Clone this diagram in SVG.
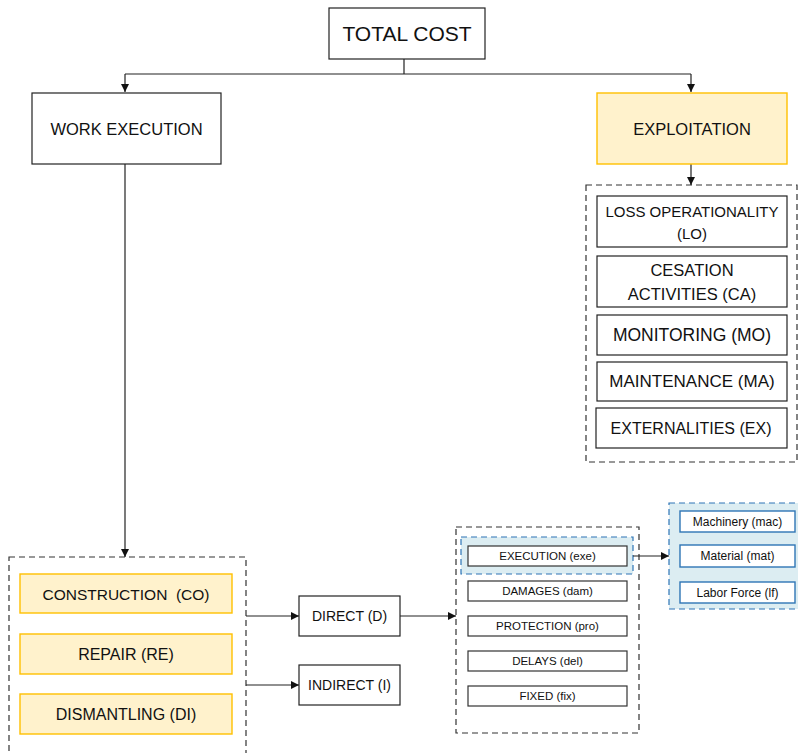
<svg xmlns="http://www.w3.org/2000/svg" width="798" height="753" viewBox="0 0 798 753">
  <style>
    text { font-family: "Liberation Sans", Arial, sans-serif; fill: #111; text-anchor: middle; dominant-baseline: central; }
    .box { fill: #fff; stroke: #222; stroke-width: 1.2; }
    .yel { fill: #FFF2CC; stroke: #FFC000; stroke-width: 1.4; }
    .grp { fill: none; stroke: #333; stroke-width: 1.2; stroke-dasharray: 6 4; }
    .bgrp { fill: #DCEDF2; stroke: #2E75B6; stroke-width: 1.2; stroke-dasharray: 6 4; }
    .bbox { fill: #fff; stroke: #2E75B6; stroke-width: 1.4; }
    .sm { fill: #fff; stroke: #333; stroke-width: 1.2; }
    .ln { fill: none; stroke: #222; stroke-width: 1.2; }
  </style>
  <defs>
    <marker id="arr" viewBox="0 0 10 10" refX="10" refY="5" markerWidth="8" markerHeight="8" markerUnits="userSpaceOnUse" orient="auto">
      <path d="M0,0 L10,5 L0,10 Z" fill="#111"/>
    </marker>
  </defs>

  <!-- group frames -->
  <rect class="grp" x="586" y="185" width="211" height="277"/>
  <rect class="grp" x="9" y="557" width="237" height="200"/>
  <rect class="grp" x="456" y="527" width="183" height="206"/>
  <rect class="bgrp" x="669" y="503" width="135" height="106"/>
  <rect class="bgrp" x="461" y="537" width="172" height="37"/>

  <g id="connectors">
    <path class="ln" d="M404,58 V74 M125,74 H691"/>
    <path class="ln" d="M125,74 V92" marker-end="url(#arr)"/>
    <path class="ln" d="M691,74 V92" marker-end="url(#arr)"/>
    <path class="ln" d="M691,163 V185" marker-end="url(#arr)"/>
    <path class="ln" d="M125,163 V557" marker-end="url(#arr)"/>
    <path class="ln" d="M246,616 H299" marker-end="url(#arr)"/>
    <path class="ln" d="M246,685 H299" marker-end="url(#arr)"/>
    <path class="ln" d="M400,616 H456" marker-end="url(#arr)"/>
    <path class="ln" d="M633,556 H669" marker-end="url(#arr)"/>
  </g>

  <g id="total-cost">
    <rect class="box" x="329" y="8" width="156" height="51"/>
    <text x="407" y="33" font-size="21">TOTAL COST</text>
  </g>
  <g id="work-execution">
    <rect class="box" x="32" y="93" width="189" height="71"/>
    <text x="126.5" y="128.5" font-size="16.5">WORK EXECUTION</text>
  </g>
  <g id="exploitation">
    <rect class="yel" x="597" y="93" width="190" height="71"/>
    <text x="692" y="128.5" font-size="16.5">EXPLOITATION</text>
  </g>

  <g id="loss-operationality">
    <rect class="box" x="597" y="196" width="190" height="51"/>
    <text x="692" y="211" font-size="15">LOSS OPERATIONALITY</text>
    <text x="692" y="233" font-size="15">(LO)</text>
  </g>
  <g id="cesation-activities">
    <rect class="box" x="597" y="256" width="190" height="51"/>
    <text x="692" y="270" font-size="16.5">CESATION</text>
    <text x="692" y="294" font-size="16.5">ACTIVITIES (CA)</text>
  </g>
  <g id="monitoring">
    <rect class="box" x="597" y="315" width="190" height="40"/>
    <text x="692" y="335" font-size="17.5">MONITORING (MO)</text>
  </g>
  <g id="maintenance">
    <rect class="box" x="597" y="362" width="190" height="39"/>
    <text x="692" y="381.5" font-size="17">MAINTENANCE (MA)</text>
  </g>
  <g id="externalities">
    <rect class="box" x="596" y="408" width="191" height="40"/>
    <text x="691" y="428" font-size="16">EXTERNALITIES (EX)</text>
  </g>

  <g id="construction">
    <rect class="yel" x="20" y="574" width="212" height="39"/>
    <text x="126" y="594" font-size="15.5" xml:space="preserve">CONSTRUCTION  (CO)</text>
  </g>
  <g id="repair">
    <rect class="yel" x="20" y="634" width="212" height="40"/>
    <text x="126" y="654" font-size="16">REPAIR (RE)</text>
  </g>
  <g id="dismantling">
    <rect class="yel" x="20" y="694" width="212" height="40"/>
    <text x="126" y="714" font-size="16">DISMANTLING (DI)</text>
  </g>

  <g id="direct">
    <rect class="box" x="299" y="596" width="101" height="40"/>
    <text x="349.5" y="616" font-size="14">DIRECT (D)</text>
  </g>
  <g id="indirect">
    <rect class="box" x="299" y="665" width="101" height="40"/>
    <text x="349.5" y="685" font-size="14">INDIRECT (I)</text>
  </g>

  <g id="execution">
    <rect class="sm" x="468" y="546" width="159" height="20"/>
    <text x="547.5" y="556" font-size="11.5">EXECUTION (exe)</text>
  </g>
  <g id="damages">
    <rect class="sm" x="468" y="581" width="159" height="20"/>
    <text x="547.5" y="591" font-size="11.5">DAMAGES (dam)</text>
  </g>
  <g id="protection">
    <rect class="sm" x="468" y="616" width="159" height="20"/>
    <text x="547.5" y="626" font-size="11.5">PROTECTION (pro)</text>
  </g>
  <g id="delays">
    <rect class="sm" x="468" y="651" width="159" height="20"/>
    <text x="547.5" y="661" font-size="11.5">DELAYS (del)</text>
  </g>
  <g id="fixed">
    <rect class="sm" x="468" y="686" width="159" height="20"/>
    <text x="547.5" y="696" font-size="11.5">FIXED (fix)</text>
  </g>

  <g id="machinery">
    <rect class="bbox" x="680" y="511" width="115" height="21"/>
    <text x="737.5" y="521.5" font-size="12">Machinery (mac)</text>
  </g>
  <g id="material">
    <rect class="bbox" x="680" y="545" width="115" height="22"/>
    <text x="737.5" y="556" font-size="12">Material (mat)</text>
  </g>
  <g id="labor-force">
    <rect class="bbox" x="680" y="582" width="115" height="21"/>
    <text x="737.5" y="592.5" font-size="12">Labor Force (lf)</text>
  </g>
</svg>
